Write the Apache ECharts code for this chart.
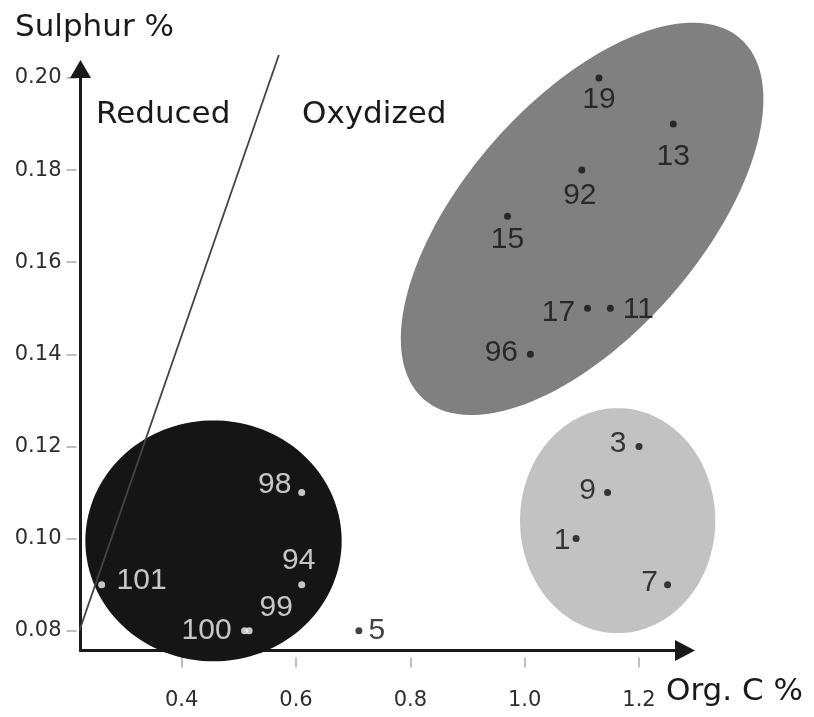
<!DOCTYPE html>
<html>
<head>
<meta charset="utf-8">
<title>Sulphur % vs Org. C %</title>
<script src="https://cdn.jsdelivr.net/npm/echarts@6.0.0/dist/echarts.min.js"></script>
<style>
  html, body { margin: 0; padding: 0; background: #fff; }
  #chart { width: 814px; height: 717px; }
</style>
</head>
<body>
<div id="chart"></div>
<script>
// sample numbers and their values
const sampleIds = ['1', '3', '5', '7', '9', '11', '13', '15', '17', '19', '92', '94', '96', '98', '99', '100', '101'];
const orgC = [1.09, 1.20, 0.71, 1.25, 1.145, 1.15, 1.26, 0.97, 1.11, 1.13, 1.10, 0.61, 1.01, 0.61, 0.518, 0.51, 0.26];
const sulphur = [0.10, 0.12, 0.08, 0.09, 0.11, 0.15, 0.19, 0.17, 0.15, 0.20, 0.18, 0.09, 0.14, 0.11, 0.08, 0.08, 0.09];
// samples lying in the black group (drawn white)
const blackGroup = ['94', '98', '99', '100', '101'];

// tick labels
const xTicks = [0.4, 0.6, 0.8, 1.0, 1.2];
const yTicks = [0.08, 0.10, 0.12, 0.14, 0.16, 0.18, 0.20];

// Reduced / Oxydized boundary
const boundaryC = [0.221, 0.570];
const boundaryS = [0.080, 0.205];

// group outlines: centre and two semi-axis vectors (data units)
const zoneCx = [1.1005, 0.4557, 1.1627];
const zoneCy = [0.1694, 0.0995, 0.1039];
const zoneUx = [0.2771, 0.2242, 0.1708];
const zoneUy = [0.03913, 0, 0];
const zoneVx = [0.1543, 0, 0];
const zoneVy = [-0.01683, 0.02616, 0.02442];
const zoneColors = ['#808080', '#151515', '#c2c2c2'];

// label shift from the dot, px
const labelShift = [[-14, 2], [-21, -3], [18, 0], [-18, -2], [-20, -2], [28, 1], [0, 33], [0, 24], [-29, 4],
  [0, 22], [-2, 26], [-3, -24], [-29, -2], [-27, -8], [27, -23], [-38, 0], [40, -4]];

const chart = echarts.init(document.getElementById('chart'));

const pointData = sampleIds.map((id, i) => {
  const white = blackGroup.indexOf(id) >= 0;
  return {
    name: id,
    value: [orgC[i], sulphur[i]],
    itemStyle: { color: white ? '#f2f2f2' : '#111' },
    label: { color: white ? '#f2f2f2' : '#111', offset: labelShift[i] }
  };
});

const tickFont = { fontFamily: 'DejaVu Sans', fontSize: 21, color: '#2e2e2e' };
const titleFont = '31px "DejaVu Sans"';

chart.setOption({
  animation: false,
  backgroundColor: '#fff',
  grid: { left: 80.5, top: 69, width: 604.5, height: 581.5 },
  xAxis: [{
    type: 'value', min: 0.223, max: 1.2805,
    axisLine: { show: true, symbol: ['none', 'triangle'], symbolSize: [21, 20], lineStyle: { color: '#1a1a1a', width: 3 } },
    axisTick: { show: false }, axisLabel: { show: false }, splitLine: { show: false }
  }, {
    type: 'value', min: 0.223, max: 1.2805, position: 'bottom', offset: 7,
    axisLine: { show: false },
    axisTick: { show: true, customValues: xTicks, length: 10, lineStyle: { color: '#aaa', width: 1.5 } },
    axisLabel: Object.assign({ customValues: xTicks, margin: 33, formatter: v => v.toFixed(1) }, tickFont),
    splitLine: { show: false }
  }],
  yAxis: [{
    type: 'value', min: 0.0757, max: 0.20195,
    axisLine: { show: true, symbol: ['none', 'triangle'], symbolSize: [21, 18], lineStyle: { color: '#1a1a1a', width: 3 } },
    axisTick: { show: false }, axisLabel: { show: false }, splitLine: { show: false }
  }, {
    type: 'value', min: 0.0757, max: 0.20195, position: 'left', offset: 4,
    axisLine: { show: false },
    axisTick: { show: true, customValues: yTicks, length: 10, lineStyle: { color: '#aaa', width: 1.5 } },
    axisLabel: Object.assign({ customValues: yTicks, margin: 15, formatter: v => v.toFixed(2) }, tickFont),
    splitLine: { show: false }
  }],
  graphic: [
    { type: 'text', style: { text: 'Sulphur %', x: 15, y: 28, font: titleFont, fill: '#1a1a1a', verticalAlign: 'middle' } },
    { type: 'text', style: { text: 'Reduced', x: 96, y: 115, font: titleFont, fill: '#1a1a1a', verticalAlign: 'middle' } },
    { type: 'text', style: { text: 'Oxydized', x: 302, y: 115, font: titleFont, fill: '#1a1a1a', verticalAlign: 'middle' } },
    { type: 'text', style: { text: 'Org. C %', x: 666, y: 692, font: titleFont, fill: '#1a1a1a', verticalAlign: 'middle' } }
  ],
  series: [{
    type: 'custom',
    z: 1,
    clip: false,
    silent: true,
    data: zoneCx.map((c, i) => [c, zoneCy[i]]),
    renderItem(params, api) {
      const i = params.dataIndex;
      const pts = [];
      for (let k = 0; k < 144; k++) {
        const t = k / 144 * Math.PI * 2;
        pts.push(api.coord([
          zoneCx[i] + zoneUx[i] * Math.cos(t) + zoneVx[i] * Math.sin(t),
          zoneCy[i] + zoneUy[i] * Math.cos(t) + zoneVy[i] * Math.sin(t)
        ]));
      }
      return { type: 'polygon', shape: { points: pts }, style: { fill: zoneColors[i] } };
    }
  }, {
    type: 'line',
    z: 3,
    clip: false,
    symbol: 'none',
    silent: true,
    data: boundaryC.map((c, i) => [c, boundaryS[i]]),
    lineStyle: { color: '#444', width: 1.8 }
  }, {
    type: 'scatter',
    z: 4,
    symbolSize: 7,
    data: pointData,
    label: {
      show: true,
      position: 'inside',
      formatter: '{b}',
      fontFamily: 'Liberation Sans',
      fontSize: 30
    }
  }]
});
</script>
</body>
</html>
